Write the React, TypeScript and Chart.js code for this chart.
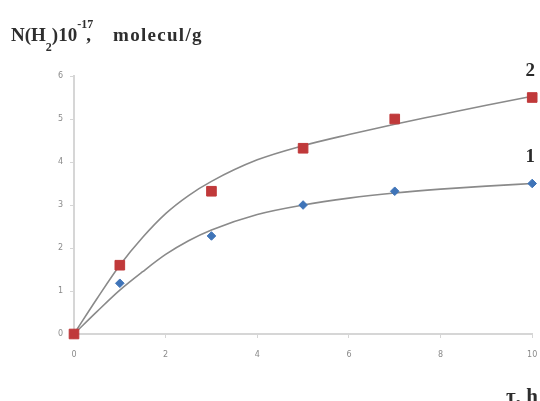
import React, { useEffect, useRef } from "react";
import { Chart, registerables } from "chart.js";

Chart.register(...registerables);

// Measured points
const timeH = [0, 1, 3, 5, 7, 10];
const series2 = [0, 1.6, 3.32, 4.32, 5.0, 5.5];
const series1 = [0, 1.18, 2.28, 3.0, 3.32, 3.5];

// Fitted curves
const fitX = [0, 0.5, 1, 1.5, 2, 2.5, 3, 4, 5, 6, 7, 8, 9, 10];
const fit2 = [0, 0.82, 1.6, 2.25, 2.8, 3.22, 3.55, 4.05, 4.38, 4.64, 4.88, 5.1, 5.32, 5.53];
const fit1 = [0, 0.52, 1.02, 1.45, 1.85, 2.17, 2.42, 2.78, 3.0, 3.16, 3.28, 3.37, 3.44, 3.5];

const yTicks = [0, 1, 2, 3, 4, 5, 6];
const xTicks = [0, 2, 4, 6, 8, 10];

const curveLabels = [
  { text: "2", x: 10, y: 5.5 },
  { text: "1", x: 10, y: 3.5 },
];

const labelPlugin = {
  id: "curveLabels",
  afterDatasetsDraw(chart: any) {
    const { ctx, scales } = chart;
    ctx.save();
    ctx.font = "bold 19px 'Liberation Serif', 'Times New Roman', serif";
    ctx.fillStyle = "#2a2a2a";
    ctx.textAlign = "center";
    ctx.textBaseline = "middle";
    for (const l of curveLabels) {
      const px = scales.x.getPixelForValue(l.x);
      const py = scales.y.getPixelForValue(l.y);
      ctx.fillText(l.text, px - 2, py - 26);
    }
    ctx.restore();
  },
};

const serif = "'Liberation Serif', 'Times New Roman', serif";

export default function App() {
  const ref = useRef<HTMLCanvasElement>(null);
  useEffect(() => {
    if (!ref.current) return;
    const toPts = (xs: number[], ys: number[]) => xs.map((x, i) => ({ x, y: ys[i] }));
    const chart = new Chart(ref.current, {
      type: "scatter",
      data: {
        datasets: [
          {
            label: "2 fit",
            data: toPts(fitX, fit2),
            showLine: true,
            borderColor: "#8a8a8a",
            borderWidth: 1.6,
            pointRadius: 0,
            cubicInterpolationMode: "monotone",
            order: 3,
          } as any,
          {
            label: "1 fit",
            data: toPts(fitX, fit1),
            showLine: true,
            borderColor: "#8a8a8a",
            borderWidth: 1.6,
            pointRadius: 0,
            cubicInterpolationMode: "monotone",
            order: 3,
          } as any,
          {
            label: "1",
            data: toPts(timeH, series1),
            pointStyle: "rectRot",
            pointRadius: 4.3,
            backgroundColor: "#3f74b8",
            borderColor: "#3f74b8",
            clip: false,
            order: 2,
          } as any,
          {
            label: "2",
            data: toPts(timeH, series2),
            pointStyle: "rect",
            pointRadius: 6.8,
            backgroundColor: "#c0393a",
            borderColor: "#c0393a",
            clip: false,
            order: 1,
          } as any,
        ],
      },
      options: {
        animation: false,
        responsive: false,
        layout: { padding: { left: 0, right: 3, top: 76, bottom: 0 } },
        plugins: { legend: { display: false }, tooltip: { enabled: false } },
        scales: {
          x: {
            type: "linear",
            min: 0,
            max: 10,
            afterBuildTicks: (s: any) => {
              s.ticks = xTicks.map((v) => ({ value: v }));
            },
            afterFit: (s: any) => {
              s.height = 67;
              s.paddingLeft = 0;
              s.paddingRight = 0;
            },
            grid: { display: true, drawOnChartArea: false, drawTicks: true, tickLength: 4, color: "#d6d6d6", lineWidth: 1 },
            border: { color: "#d6d6d6", width: 2 },
            ticks: { color: "#8a8a8a", font: { size: 8, family: "'DejaVu Sans', sans-serif" }, padding: 12, maxRotation: 0 },
          },
          y: {
            type: "linear",
            min: 0,
            max: 6,
            afterBuildTicks: (s: any) => {
              s.ticks = yTicks.map((v) => ({ value: v }));
            },
            afterFit: (s: any) => {
              s.width = 74;
              s.paddingTop = 0;
              s.paddingBottom = 0;
            },
            grid: { display: true, drawOnChartArea: false, drawTicks: true, tickLength: 4, color: "#d6d6d6", lineWidth: 1 },
            border: { color: "#d6d6d6", width: 2 },
            ticks: { color: "#8a8a8a", font: { size: 8, family: "'DejaVu Sans', sans-serif" }, padding: 7 },
          },
        },
      },
      plugins: [labelPlugin],
    });
    return () => chart.destroy();
  }, []);

  const titleStyle: React.CSSProperties = {
    position: "absolute",
    fontFamily: serif,
    fontWeight: "bold",
    fontSize: 19,
    color: "#2e2e2e",
    whiteSpace: "nowrap",
    lineHeight: "20px",
  };

  return (
    <div style={{ position: "absolute", left: 0, top: 0, width: 540, height: 401, background: "#fff", overflow: "hidden" }}>
      <canvas ref={ref} width={540} height={401} style={{ position: "absolute", left: 0, top: 0 }} />
      <div style={{ ...titleStyle, left: 11, top: 25 }}>
        N(H
        <span style={{ fontSize: 12, position: "relative", top: 10 }}>2</span>
        )10
        <span style={{ fontSize: 12, position: "relative", top: -13 }}>-17</span>
        <span style={{ marginLeft: -7 }}>,</span>
      </div>
      <div style={{ ...titleStyle, left: 113, top: 25, letterSpacing: 1.3 }}>molecul/g</div>
      <div style={{ ...titleStyle, left: 506, top: 386, fontSize: 21 }}>τ, h</div>
    </div>
  );
}
